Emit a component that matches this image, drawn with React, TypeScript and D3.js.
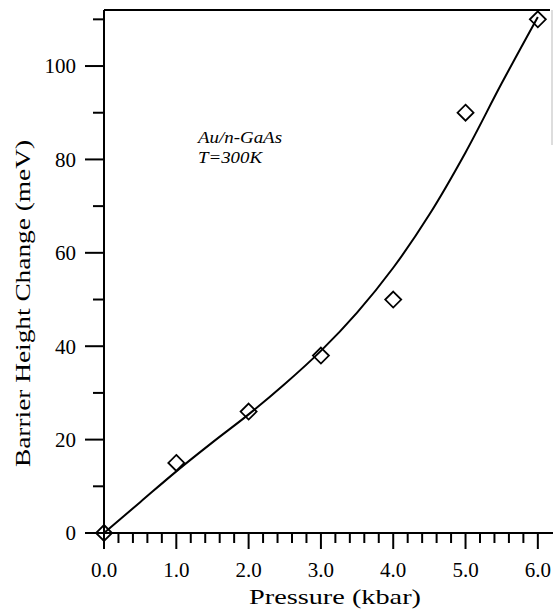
import React from "react";
import * as d3 from "d3";

const pressure = [0, 1, 2, 3, 4, 5, 6];
const barrierChange = [0, 15, 26, 38, 50, 90, 110];

const fitPressure = [0, 0.5, 1, 1.5, 2, 2.5, 3, 3.5, 4, 4.5, 5, 5.5, 6];
const fitChange = [0, 6.6, 13.2, 19.4, 25.4, 31.9, 39.0, 47.2, 56.8, 68.2, 81.5, 96.3, 110.5];

const xMajorTicks = [0, 1, 2, 3, 4, 5, 6];
const xTickLabels = ["0.0", "1.0", "2.0", "3.0", "4.0", "5.0", "6.0"];
const yMajorTicks = [0, 20, 40, 60, 80, 100];
const yMinorTicks = [10, 30, 50, 70, 90, 110];

const annotation = ["Au/n-GaAs", "T=300K"];
const xTitle = "Pressure (kbar)";
const yTitle = "Barrier Height Change (meV)";

export default function App() {
  const W = 553;
  const H = 612;
  const x = d3.scaleLinear().domain([0, 6.2]).range([104, 552.3]);
  const y = d3.scaleLinear().domain([0, 112]).range([533, 10]);
  const xMinor = d3.range(0, 31).map((i) => i * 0.2).filter((v) => Math.abs(v - Math.round(v)) > 1e-6);

  const line = d3
    .line<number>()
    .x((_, i) => x(fitPressure[i]))
    .y((d) => y(d))
    .curve(d3.curveCatmullRom.alpha(0.5));

  const font = "Liberation Serif, DejaVu Serif, serif";
  const s = 8;

  return (
    <svg width={W} height={H} style={{ position: "absolute", left: 0, top: 0, background: "#fff", fontFamily: font }}>
      <rect x={0} y={0} width={W} height={H} fill="#fff" />
      {/* frame top */}
      <line x1={x(0)} x2={550} y1={y(112)} y2={y(112)} stroke="#000" strokeWidth={2} />
      <line x1={552} x2={552} y1={y(112)} y2={145} stroke="#bbb" strokeWidth={1} />
      {/* y axis */}
      <line x1={x(0)} x2={x(0)} y1={y(112)} y2={y(0) + 16} stroke="#000" strokeWidth={2} />
      {/* x axis */}
      <line x1={x(0) - 18} x2={W} y1={y(0)} y2={y(0)} stroke="#000" strokeWidth={2} />
      {yMajorTicks.map((v) => (
        <g key={"ym" + v}>
          <line x1={x(0) - 19} x2={x(0)} y1={y(v)} y2={y(v)} stroke="#000" strokeWidth={2} />
          <text x={x(0) - 28} y={y(v)} dy="0.35em" textAnchor="end" style={{ fontFamily: font, fontSize: 21 }}>
            {v}
          </text>
        </g>
      ))}
      {yMinorTicks.map((v) => (
        <line key={"yn" + v} x1={x(0) - 11} x2={x(0)} y1={y(v)} y2={y(v)} stroke="#000" strokeWidth={2} />
      ))}
      {xMajorTicks.map((v, i) => (
        <g key={"xm" + v}>
          <line x1={x(v)} x2={x(v)} y1={y(0)} y2={y(0) + 16} stroke="#000" strokeWidth={2} />
          <text x={x(v)} y={577} textAnchor="middle" style={{ fontFamily: font, fontSize: 21 }}>
            {xTickLabels[i]}
          </text>
        </g>
      ))}
      {xMinor.map((v) => (
        <line key={"xn" + v} x1={x(v)} x2={x(v)} y1={y(0)} y2={y(0) + 10} stroke="#000" strokeWidth={2} />
      ))}
      {/* fit curve */}
      <path d={line(fitChange) || ""} fill="none" stroke="#000" strokeWidth={2} />
      {/* data diamonds */}
      {barrierChange.map((v, i) => {
        const cx = x(pressure[i]);
        const cy = y(v);
        return (
          <path
            key={"d" + i}
            d={`M${cx},${cy - s}L${cx + s},${cy}L${cx},${cy + s}L${cx - s},${cy}Z`}
            fill="none"
            stroke="#000"
            strokeWidth={1.8}
          />
        );
      })}
      {/* annotation */}
      <text x={198} y={143} textLength={84} lengthAdjust="spacingAndGlyphs" style={{ fontFamily: font, fontSize: 17, fontStyle: "italic" }}>
        {annotation[0]}
      </text>
      <text x={198} y={163} textLength={64} lengthAdjust="spacingAndGlyphs" style={{ fontFamily: font, fontSize: 17, fontStyle: "italic" }}>
        {annotation[1]}
      </text>
      {/* axis titles */}
      <text x={249} y={604} textLength={172} lengthAdjust="spacingAndGlyphs" style={{ fontFamily: font, fontSize: 22 }}>
        {xTitle}
      </text>
      <text
        transform={`translate(30, 467) rotate(-90)`}
        textLength={327}
        lengthAdjust="spacingAndGlyphs"
        style={{ fontFamily: font, fontSize: 22 }}
      >
        {yTitle}
      </text>
    </svg>
  );
}
